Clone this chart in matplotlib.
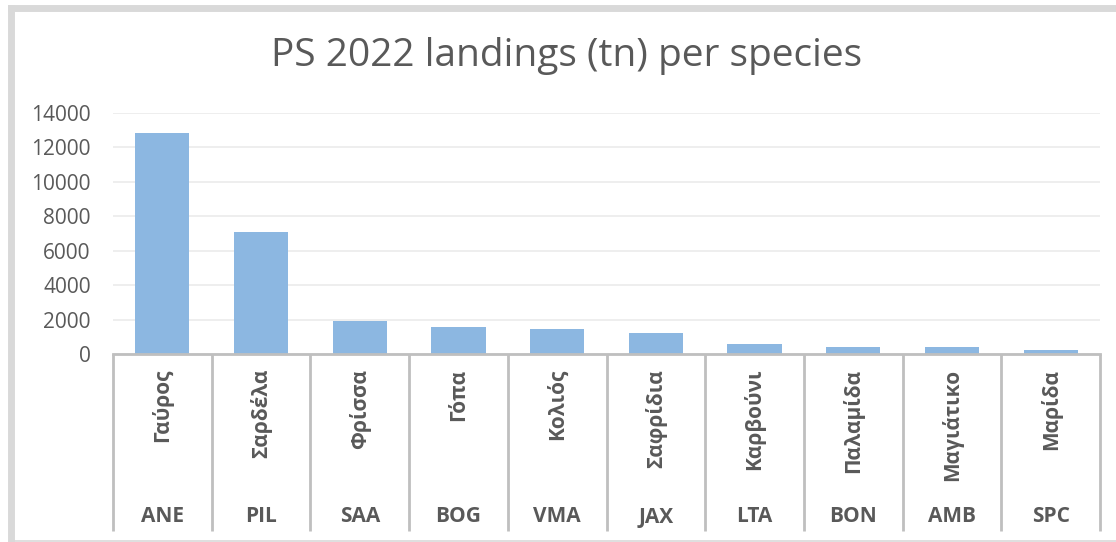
import matplotlib
matplotlib.use("Agg")
import matplotlib.pyplot as plt
from matplotlib.lines import Line2D

# ─── Datos ────────────────────────────────────────────────────────────────────
species_gr = ["Γαύρος", "Σαρδέλα", "Φρίσσα", "Γόπα", "Κολιός",
              "Σαφρίδια", "Καρβούνι", "Παλαμίδα", "Μαγιάτικο", "Μαρίδα"]
codes = ["ANE", "PIL", "SAA", "BOG", "VMA", "JAX", "LTA", "BON", "AMB", "SPC"]
landings = [12840, 7060, 1900, 1580, 1440, 1230, 560, 420, 380, 260]
yticks = [0, 2000, 4000, 6000, 8000, 10000, 12000, 14000]

# ─── Estilo ───────────────────────────────────────────────────────────────────
plt.rcParams["font.family"] = ["Open Sans", "Noto Sans", "DejaVu Sans"]
TXT = "#595959"
LINE = "#bfbfbf"
BAR = "#8cb7e1"

W, H = 1116, 542
fig = plt.figure(figsize=(W / 100, H / 100), dpi=100)
fig.patch.set_facecolor("white")

# área del gráfico en píxeles: x 113..1100, y 113..354
ax = fig.add_axes([113 / W, 1 - 354 / H, (1100 - 113) / W, (354 - 113) / H])

x = list(range(len(codes)))
ax.bar(x, landings, width=0.55, color=BAR, zorder=3)

ax.set_xlim(-0.5, len(codes) - 0.5)
ax.set_ylim(0, 14000)
ax.set_yticks(yticks)
ax.set_yticklabels([str(v) for v in yticks], fontsize=15, color=TXT)
ax.tick_params(axis="y", length=0, pad=16)
ax.set_xticks([])
ax.grid(True, axis="y", color="#ebebeb", linewidth=1.2, zorder=0)

for s in ["top", "right", "left"]:
    ax.spines[s].set_visible(False)
ax.spines["bottom"].set_color(LINE)
ax.spines["bottom"].set_linewidth(2)
ax.spines["bottom"].set_zorder(4)

# ─── Eje de categorías en dos niveles ────────────────────────────────────────
tr = ax.get_xaxis_transform()
h_ax = 354 - 113
for i, (gr, cd) in enumerate(zip(species_gr, codes)):
    ax.text(i, -(369 - 354) / h_ax, gr, transform=tr, rotation=90,
            ha="center", va="top", fontsize=15, fontweight="bold",
            color=TXT, clip_on=False)
    ax.text(i, -(517 - 354) / h_ax, cd, transform=tr,
            ha="center", va="center", fontsize=15, fontweight="bold",
            color=TXT, clip_on=False)

for b in range(len(codes) + 1):
    ax.plot([b - 0.5, b - 0.5], [0, -(531 - 354) / h_ax], transform=tr,
            color=LINE, linewidth=2, clip_on=False, solid_capstyle="butt")

# ─── Título ──────────────────────────────────────────────────────────────────
fig.text(567 / W, 1 - 56 / H, "PS 2022 landings (tn) per species",
         ha="center", va="center", fontsize=28, color=TXT)

# ─── Borde del gráfico ───────────────────────────────────────────────────────
def px_line(x0, y0, x1, y1, lw):
    fig.add_artist(Line2D([x0 / W, x1 / W], [1 - y0 / H, 1 - y1 / H],
                          transform=fig.transFigure, color="#d9d9d9",
                          linewidth=lw, solid_capstyle="projecting"))

px_line(11, 7.5, W, 7.5, 5)
px_line(10.5, 7.5, 10.5, 540, 5)
px_line(11, 541, W, 541, 1.2)

fig.savefig("out.png", dpi=100, facecolor="white")
